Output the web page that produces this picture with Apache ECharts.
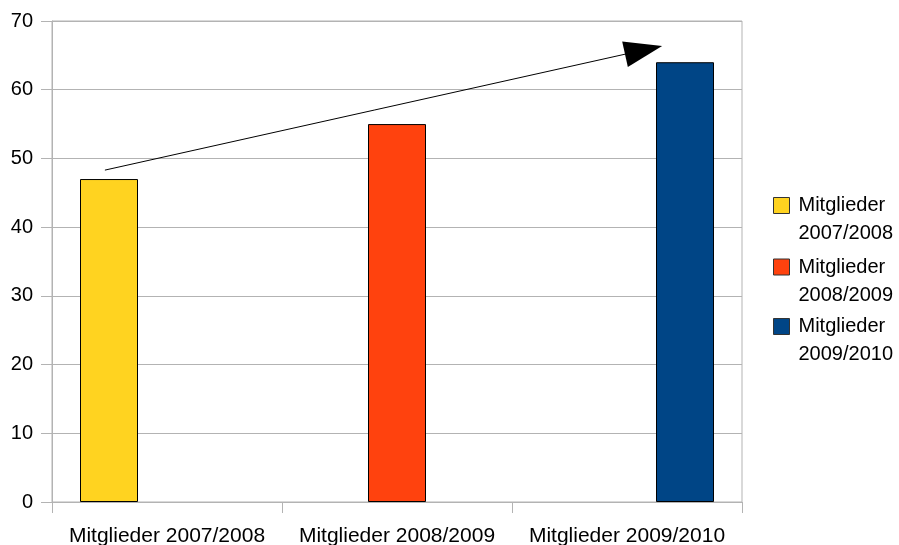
<!DOCTYPE html>
<html>
<head>
<meta charset="utf-8">
<script src="https://cdn.jsdelivr.net/npm/echarts@6/dist/echarts.min.js"></script>
<style>html,body{margin:0;padding:0;background:#fff}#c{width:899px;height:545px}</style>
</head>
<body>
<div id="c"></div>
<script>
const categories = ['Mitglieder 2007/2008', 'Mitglieder 2008/2009', 'Mitglieder 2009/2010'];
const seriesNames = ['Mitglieder\n2007/2008', 'Mitglieder\n2008/2009', 'Mitglieder\n2009/2010'];
const values = [47, 55, 64];
const colors = ['#ffd320', '#ff420e', '#004586'];
const yTicks = [0, 10, 20, 30, 40, 50, 60, 70];
// trend arrow annotation, in data units (x: 0..3 across the categories)
const arrowStart = [0.23, 48.3];
const arrowEnd = [2.572, 65.77];

const FONT = '"Liberation Sans", Arial, sans-serif';
const gridColor = '#b3b3b3';

const barSeries = seriesNames.map((name, i) => ({
  type: 'bar',
  name: name,
  data: values.map((v, j) => (j === i ? v : '-')),
  barWidth: 58,
  barGap: '0%',
  itemStyle: { color: colors[i], borderColor: '#000', borderWidth: 1 },
  emphasis: { disabled: true },
  xAxisIndex: 0,
  yAxisIndex: 0
}));

const legendTops = [163.5, 225, 284.5];
const legends = seriesNames.map((name, i) => ({
  data: [name],
  orient: 'vertical',
  left: 773,
  top: legendTops[i],
  padding: 0,
  icon: 'rect',
  itemWidth: 16,
  itemHeight: 16,
  selectedMode: false,
  formatter: (n) => '\n' + n,
  itemStyle: { borderColor: '#333', borderWidth: 1 },
  textStyle: {
    fontFamily: FONT,
    fontSize: 20,
    color: '#000',
    lineHeight: 28,
    padding: [0, 0, 0, 4]
  }
}));

const option = {
  animation: false,
  backgroundColor: '#fff',
  grid: { left: 52, right: 157, top: 21, bottom: 43, outerBoundsMode: 'none', containLabel: false, show: true, borderColor: gridColor, borderWidth: 1 },
  legend: legends,
  xAxis: [{
    type: 'category',
    data: categories,
    axisLine: { lineStyle: { color: gridColor } },
    axisTick: { show: true, length: 11, lineStyle: { color: gridColor } },
    axisLabel: { fontFamily: FONT, fontSize: 21, color: '#000', margin: 24, interval: 0 },
    splitLine: { show: false }
  }, {
    type: 'value',
    min: 0,
    max: 3,
    show: false
  }],
  yAxis: [{
    type: 'value',
    min: yTicks[0],
    max: yTicks[yTicks.length - 1],
    interval: 10,
    axisLine: { show: true, lineStyle: { color: gridColor } },
    axisTick: { show: true, length: 11, lineStyle: { color: gridColor } },
    axisLabel: { fontFamily: FONT, fontSize: 20, color: '#000', margin: 19 },
    splitLine: { show: true, lineStyle: { color: gridColor, width: 1 } }
  }],
  series: barSeries.concat([{
    type: 'line',
    name: 'trend',
    xAxisIndex: 1,
    yAxisIndex: 0,
    data: [],
    silent: true,
    markLine: {
      silent: true,
      animation: false,
      symbol: ['none', 'triangle'],
      symbolSize: [26, 38],
      label: { show: false },
      lineStyle: { color: '#000', width: 1, type: 'solid' },
      emphasis: { disabled: true },
      data: [[{ coord: arrowStart }, { coord: arrowEnd }]]
    }
  }])
};

const chart = echarts.init(document.getElementById('c'), null, { renderer: 'canvas' });
chart.setOption(option);
</script>
</body>
</html>
